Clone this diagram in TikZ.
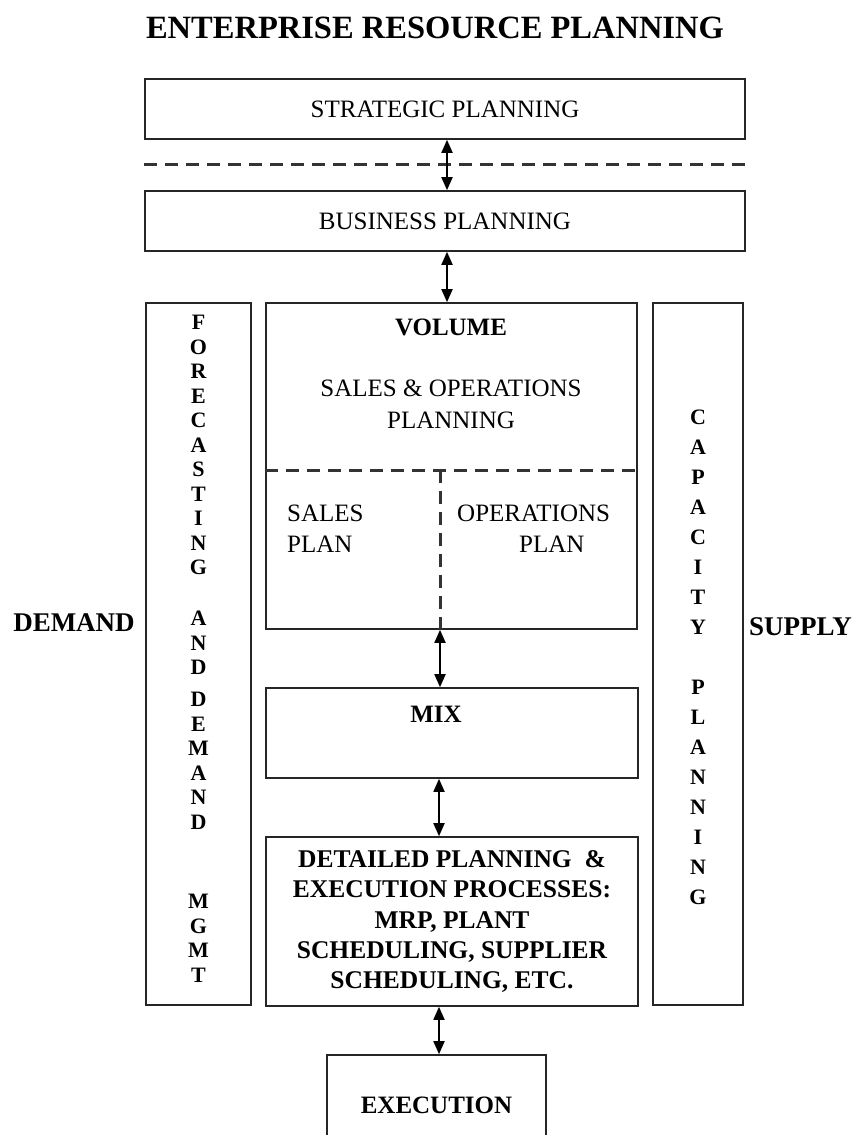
\documentclass[tikz,border=0pt]{standalone}
\usepackage{fontspec}
\setmainfont{Liberation Serif}
\usetikzlibrary{arrows.meta, positioning}
\tikzstyle{arrow} = [line width=1.8pt, {Triangle[length=13pt,width=11pt]}-{Triangle[length=13pt,width=11pt]}]
\tikzstyle{planbox} = [rectangle, draw=black!85, line width=1.6pt, align=center]
\tikzstyle{divider} = [draw=black!80, line width=3pt, dash pattern=on 13pt off 8pt]
\newcommand\boxfont{\fontsize{25}{30}\selectfont}
\tikzset{
	letters/.style = {align=center, anchor=north, font=\fontsize{22}{24.5}\selectfont\bfseries},
	sidelabel/.style = {font=\fontsize{27}{32}\selectfont\bfseries}
}

\begin{document}
\begin{tikzpicture}[x=1pt, y=-1pt, every node/.style={inner sep=0pt}]
\useasboundingbox (0,0) rectangle (860,1135);
\clip (0,0) rectangle (860,1135);
%----------------------------------------------------------------------------
% Title
\node (title) at (435,28) {\fontsize{32.5}{36}\selectfont\bfseries ENTERPRISE RESOURCE PLANNING};

%----------------------------------------------------------------------------
% Boxes
\node (strategic) [planbox, minimum width=600pt, minimum height=60pt] at (445,109) {\boxfont STRATEGIC PLANNING};
\node (business) [planbox, minimum width=600pt, minimum height=60pt] at (445,221) {\boxfont BUSINESS PLANNING};

\node (forecast) [planbox, minimum width=105pt, minimum height=702pt] at (198.5,654) {};
\node (volume) [planbox, minimum width=371pt, minimum height=326pt] at (451.5,466) {};
\node (capacity) [planbox, minimum width=90pt, minimum height=702pt] at (698,654) {};

\node (mix) [planbox, minimum width=372pt, minimum height=90pt] at (452,733) {};
\node (detailed) [planbox, minimum width=372pt, minimum height=169pt, font=\fontsize{25.5}{30.25}\selectfont\bfseries] at (452,921.5) {DETAILED PLANNING \ \&\\EXECUTION PROCESSES:\\MRP, PLANT\\SCHEDULING, SUPPLIER\\SCHEDULING, ETC.};
\node (execution) [planbox, minimum width=219pt, minimum height=100pt] at (436.5,1105) {\boxfont\bfseries EXECUTION};

%----------------------------------------------------------------------------
% Texts inside the boxes
\node (volTitle) at (451,327) {\boxfont\bfseries VOLUME};
\node (sop) [align=center, font=\fontsize{25}{32}\selectfont] at (451,404) {SALES \& OPERATIONS\\PLANNING};
\node (salesPlan) [align=left, anchor=west, font=\fontsize{25}{31}\selectfont] at (287,529) {SALES\\PLAN};
\node (opsPlan) [align=left, anchor=west, font=\fontsize{25}{31}\selectfont] at (457,529) {OPERATIONS\\\hspace*{62pt}PLAN};
\node (mixTitle) at (436,714) {\boxfont\bfseries MIX};

\node (forecastText) [letters] at (198.5,315) {F\\O\\R\\E\\C\\A\\S\\T\\I\\N\\G\\[26.5pt]A\\N\\D\\[7.5pt]D\\E\\M\\A\\N\\D\\[55pt]M\\G\\M\\T};
\node (capacityText) [letters, font=\fontsize{22}{30}\selectfont\bfseries] at (698,410) {C\\A\\P\\A\\C\\I\\T\\Y\\[30pt]P\\L\\A\\N\\N\\I\\N\\G};

\node (demand) [sidelabel] at (74,623) {DEMAND};
\node (supply) [sidelabel, anchor=west] at (749,627) {SUPPLY};

%----------------------------------------------------------------------------
% Dashed separators
\draw [divider] ([yshift=-25pt]strategic.south west) -- ([yshift=-25pt]strategic.south east);
\draw [divider] ([yshift=-4pt]volume.west) -- ([yshift=-4pt]volume.east);
\draw [divider] ([xshift=-11.5pt,yshift=-4pt]volume.center) -- ([xshift=-11.5pt]volume.south);

%----------------------------------------------------------------------------
% Lines
\draw [arrow] ([xshift=2pt]strategic.south) -- ([xshift=2pt]business.north);
\draw [arrow] ([xshift=2pt]business.south) -- ([xshift=-4.5pt]volume.north);
\draw [arrow] ([xshift=-11.5pt]volume.south) -- ([xshift=-12pt]mix.north);
\draw [arrow] ([xshift=-13pt]mix.south) -- ([xshift=-13pt]detailed.north);
\draw [arrow] ([xshift=-13pt]detailed.south) -- ([xshift=2.5pt]execution.north);
\end{tikzpicture}
\end{document}
